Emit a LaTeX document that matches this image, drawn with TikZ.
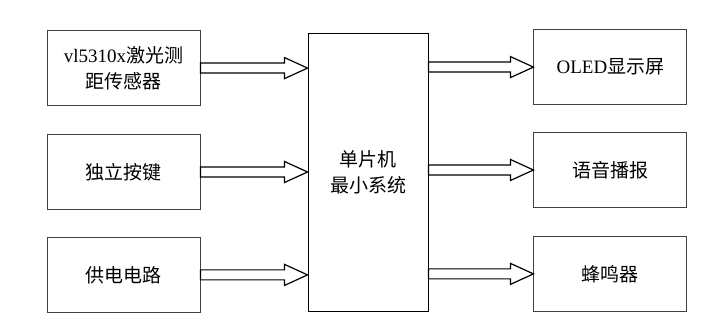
\documentclass[tikz,border=0pt]{standalone}
\usepackage{fontspec}
\setmainfont{Liberation Serif}
\newfontfamily\cjk{Noto Sans CJK SC}
\usetikzlibrary{positioning, calc}
\definecolor{boxgray}{HTML}{404040}
\tikzset{
  block/.style={rectangle, draw=boxgray, line width=0.9pt, fill=white,
                minimum width=153pt, minimum height=75pt, align=center,
                font=\fontsize{19}{26}\selectfont\cjk, inner sep=0pt},
  sysbox/.style={block, draw=black, minimum width=120pt, minimum height=278pt},
  flow/.style={draw=black, line width=1.2pt, line join=miter, fill=white},
}
% hollow block arrow from #1 to #2 (same height)
\newcommand{\fatarrow}[2]{%
  \draw[flow] let \p1=(#1), \p2=(#2) in
    (\x1,\y1+5pt) -- (\x2-23pt,\y1+5pt) -- (\x2-23pt,\y1+10.5pt) -- (\x2,\y1)
    -- (\x2-23pt,\y1-10.5pt) -- (\x2-23pt,\y1-5pt) -- (\x1,\y1-5pt) -- cycle;}

\begin{document}
\begin{tikzpicture}[x=1pt, y=-1pt]
  \useasboundingbox (0,0) rectangle (721,323);

  % MCU (centre)
  \node[sysbox] (mcu) at (368,172) {单片机\\最小系统};

  % Input column (left)
  \node[block, left=107pt of mcu] (lkey) {独立按键};
  \node[block, above=28pt of lkey] (laser) {{\rmfamily vl5310x}激光测\\距传感器};
  \node[block, below=27pt of lkey] (power) {供电电路};

  % Output column (right)
  \node[block, right=105pt of mcu, yshift=2pt] (voice) {语音播报};
  \node[block, above=27pt of voice] (oled) {{\rmfamily OLED}显示屏};
  \node[block, below=28pt of voice] (buzz) {蜂鸣器};

  % Arrows: inputs -> MCU
  \fatarrow{laser.east}{mcu.west |- laser.east}
  \fatarrow{lkey.east}{mcu.west |- lkey.east}
  \fatarrow{power.east}{mcu.west |- power.east}

  % Arrows: MCU -> outputs
  \fatarrow{mcu.east |- oled.west}{oled.west}
  \fatarrow{mcu.east |- voice.west}{voice.west}
  \fatarrow{mcu.east |- buzz.west}{buzz.west}

\end{tikzpicture}
\end{document}
